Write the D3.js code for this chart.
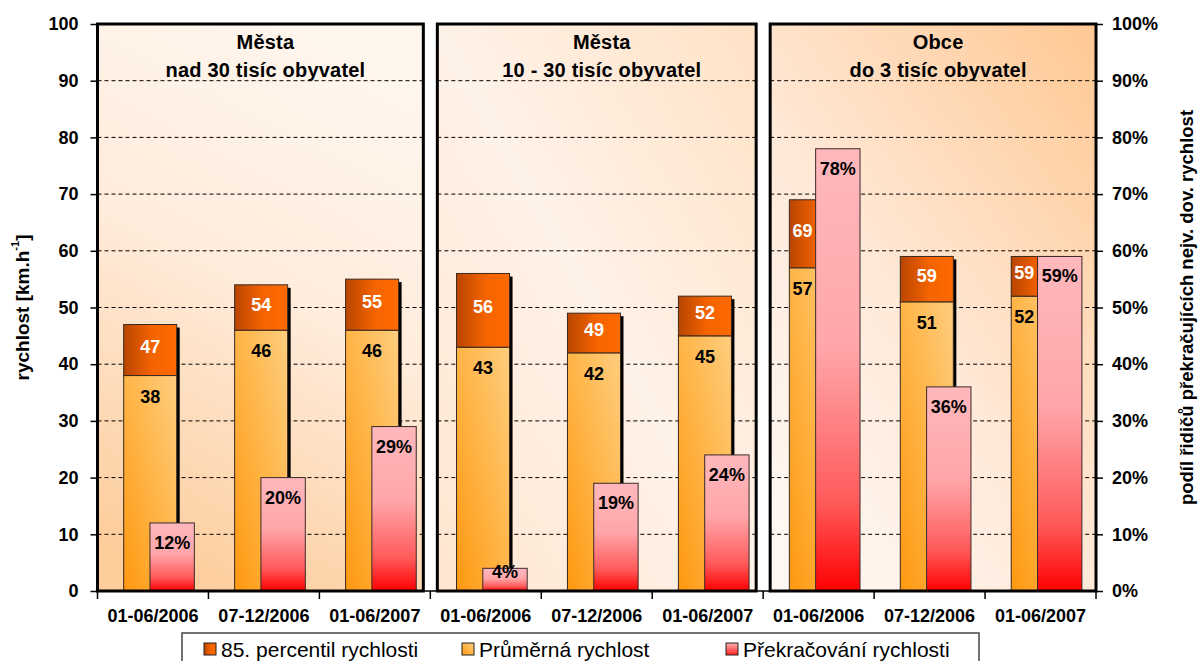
<!DOCTYPE html>
<html>
<head>
<meta charset="utf-8">
<script src="https://cdn.jsdelivr.net/npm/d3@7"></script>
<style>
  html, body { margin: 0; padding: 0; background: #fff; }
  svg { display: block; font-family: "Liberation Sans", Arial, sans-serif; }
</style>
</head>
<body>
<svg id="chart" width="1200" height="661"></svg>
<script>
// Periods shown under every group of bars
const periods = ["01-06/2006", "07-12/2006", "01-06/2007"];
// Group headings (two lines each)
const groupTitles = [
  ["Města", "nad 30 tisíc obyvatel"],
  ["Města", "10 - 30 tisíc obyvatel"],
  ["Obce", "do 3 tisíc obyvatel"]
];
// Average speed [km/h], per group and period
const meanSpeed = [38, 46, 46, 43, 42, 45, 57, 51, 52];
// 85th percentile speed [km/h]
const p85Speed = [47, 54, 55, 56, 49, 52, 69, 59, 59];
// Share of drivers over the speed limit [%]
const speedingShare = [12, 20, 29, 4, 19, 24, 78, 36, 59];
// Axis ticks
const speedTicks = [0, 10, 20, 30, 40, 50, 60, 70, 80, 90, 100];
const shareTicks = [0, 10, 20, 30, 40, 50, 60, 70, 80, 90, 100];
const legendLabels = ["85. percentil rychlosti", "Průměrná rychlost", "Překračování rychlosti"];

const rows = meanSpeed.map((m, i) => ({
  i, group: Math.floor(i / 3), period: periods[i % 3],
  mean: m, p85: p85Speed[i], share: speedingShare[i]
}));

const svg = d3.select("#chart");
const plotTop = 24, plotBottom = 591, plotLeft = 97.5, plotRight = 1096;

const x = d3.scaleBand().domain(d3.range(rows.length)).range([plotLeft, plotRight]).padding(0);
const bw = x.bandwidth();
const y = d3.scaleLinear().domain([0, 100]).range([plotBottom, plotTop]);
const yShare = d3.scaleLinear().domain([0, 100]).range([plotBottom, plotTop]);

// bar geometry inside each category band
const orangeOff = bw * 0.236, orangeW = bw * 0.478;
const pinkOff = bw * 0.473, pinkW = bw * 0.4;

// ---- gradients ----
const defs = svg.append("defs");
function lin(id, x1, y1, x2, y2, stops) {
  const g = defs.append("linearGradient").attr("id", id)
    .attr("x1", x1).attr("y1", y1).attr("x2", x2).attr("y2", y2);
  stops.forEach(([o, c]) => g.append("stop").attr("offset", o).attr("stop-color", c));
}
lin("gDark", 0, 0, 1, 0, [[0, "#b94500"], [0.55, "#f56400"], [1, "#ff6a00"]]);
lin("gMean", 0, 1, 1, 0, [[0, "#ff9810"], [0.5, "#ffb446"], [1, "#ffcd7e"]]);
lin("gPink", 0, 0, 0, 1, [[0, "#ffb8bc"], [0.45, "#ffa6aa"], [0.8, "#ff5a5a"], [1, "#ff0000"]]);
lin("gLegPink", 0, 0, 0, 1, [[0, "#ffb0b4"], [1, "#ff2020"]]);
// panel backgrounds
lin("gPanel0", 0.6, 0, 0.3, 1, [[0, "#fff6ee"], [0.45, "#ffecdc"], [1, "#fdcd9c"]]);
lin("gPanel1", 1, 0, 0, 1, [[0, "#ffe2c6"], [0.5, "#fff2e8"], [1, "#ffe6d0"]]);
lin("gPanel2", 1, 0, 0.2, 1, [[0, "#ffc893"], [0.6, "#ffe9d8"], [1, "#fff7f1"]]);

// ---- panels ----
const panels = d3.range(3).map(g => {
  const x0 = x(g * 3) + (g > 0 ? 7 : 0);
  const x1 = x(g * 3 + 2) + bw - (g < 2 ? 7 : 0);
  return { g, x0, x1 };
});

svg.append("g").selectAll("rect").data(panels).join("rect")
  .attr("x", d => d.x0).attr("y", plotTop)
  .attr("width", d => d.x1 - d.x0).attr("height", plotBottom - plotTop)
  .attr("fill", d => `url(#gPanel${d.g})`);

// dashed grid lines, one set per panel
const grid = svg.append("g");
panels.forEach(p => {
  grid.append("g").selectAll("line").data(speedTicks.filter(t => t > 0 && t < 100)).join("line")
    .attr("x1", p.x0).attr("x2", p.x1)
    .attr("y1", d => y(d)).attr("y2", d => y(d))
    .attr("stroke", "#000").attr("stroke-width", 1).attr("stroke-dasharray", "4,3");
});

// ---- bars ----
const bars = svg.append("g");
// drop shadow of the speed bars
bars.selectAll(".shadow").data(rows).join("rect")
  .attr("class", "shadow")
  .attr("x", d => x(d.i) + orangeOff + 3)
  .attr("y", d => y(d.p85) + 3)
  .attr("width", orangeW)
  .attr("height", d => plotBottom - y(d.p85) - 3)
  .attr("fill", "#000");
// average speed
bars.selectAll(".mean").data(rows).join("rect")
  .attr("class", "mean")
  .attr("x", d => x(d.i) + orangeOff)
  .attr("y", d => y(d.mean))
  .attr("width", orangeW)
  .attr("height", d => plotBottom - y(d.mean))
  .attr("fill", "url(#gMean)").attr("stroke", "#3a2a20").attr("stroke-width", 1);
// 85th percentile part stacked above
bars.selectAll(".p85").data(rows).join("rect")
  .attr("class", "p85")
  .attr("x", d => x(d.i) + orangeOff)
  .attr("y", d => y(d.p85))
  .attr("width", orangeW)
  .attr("height", d => y(d.mean) - y(d.p85))
  .attr("fill", "url(#gDark)").attr("stroke", "#3a2a20").attr("stroke-width", 1);
// share of speeding drivers (secondary axis)
bars.selectAll(".share").data(rows).join("rect")
  .attr("class", "share")
  .attr("x", d => x(d.i) + pinkOff)
  .attr("y", d => yShare(d.share))
  .attr("width", pinkW)
  .attr("height", d => plotBottom - yShare(d.share))
  .attr("fill", "url(#gPink)").attr("stroke", "#3a2a2a").attr("stroke-width", 1);

// ---- value labels ----
// speed labels sit in the middle of the visible part of the speed bar
function speedLabelX(d, ly) {
  const x0 = x(d.i) + orangeOff;
  const hidden = yShare(d.share) < ly + 10;
  return hidden ? (x0 + x(d.i) + pinkOff) / 2 : x0 + orangeW / 2;
}
const labels = svg.append("g").attr("font-weight", "bold").attr("font-size", 18)
  .attr("text-anchor", "middle").attr("dominant-baseline", "central");
labels.selectAll(".lp85").data(rows).join("text")
  .attr("class", "lp85")
  .each(function (d) {
    const ly = (y(d.p85) + y(d.mean)) / 2 - 3;
    d3.select(this).attr("x", speedLabelX(d, ly)).attr("y", ly);
  })
  .attr("fill", "#fff").text(d => d.p85);
labels.selectAll(".lmean").data(rows).join("text")
  .attr("class", "lmean")
  .each(function (d) {
    const ly = y(d.mean) + 21;
    d3.select(this).attr("x", speedLabelX(d, ly)).attr("y", ly);
  })
  .attr("fill", "#000").text(d => d.mean);
labels.selectAll(".lshare").data(rows).join("text")
  .attr("class", "lshare")
  .attr("x", d => x(d.i) + pinkOff + pinkW / 2)
  .attr("y", d => {
    const t = yShare(d.share);
    return plotBottom - t < 40 ? t + 4 : t + 20;
  })
  .attr("fill", "#000").text(d => d.share + "%");

// ---- panel frames and titles ----
svg.append("g").selectAll("rect").data(panels).join("rect")
  .attr("x", d => d.x0).attr("y", plotTop)
  .attr("width", d => d.x1 - d.x0).attr("height", plotBottom - plotTop)
  .attr("fill", "none").attr("stroke", "#000").attr("stroke-width", 3);

const titles = svg.append("g").attr("font-weight", "bold").attr("font-size", 20)
  .attr("letter-spacing", 0.2).attr("text-anchor", "middle");
panels.forEach(p => {
  const cx = (p.x0 + p.x1) / 2 + 5;
  groupTitles[p.g].forEach((line, k) => {
    titles.append("text").attr("x", cx).attr("y", 49 + k * 28).text(line);
  });
});

// ---- axes ----
const axisFont = g => g.selectAll("text").attr("font-family", "Liberation Sans, Arial, sans-serif")
  .attr("font-size", 18).attr("font-weight", "bold").attr("fill", "#000");

const yAxis = svg.append("g").attr("transform", `translate(${plotLeft},0)`)
  .call(d3.axisLeft(y).tickValues(speedTicks).tickSize(7).tickPadding(12));
yAxis.select(".domain").remove();
yAxis.selectAll("line").attr("stroke", "#000").attr("stroke-width", 1.5);
axisFont(yAxis);

const y2Axis = svg.append("g").attr("transform", `translate(${plotRight},0)`)
  .call(d3.axisRight(yShare).tickValues(shareTicks).tickFormat(d => d + "%").tickSize(7).tickPadding(9));
y2Axis.select(".domain").remove();
y2Axis.selectAll("line").attr("stroke", "#000").attr("stroke-width", 1.5);
axisFont(y2Axis);

const xAxis = svg.append("g").attr("transform", `translate(0,${plotBottom})`)
  .call(d3.axisBottom(x).tickFormat(i => periods[i % 3]).tickSize(0).tickPadding(18));
xAxis.select(".domain").attr("d", `M${plotLeft},0H${plotRight}`).attr("stroke", "#000").attr("stroke-width", 1.5);
axisFont(xAxis);
// category separators below the axis
xAxis.selectAll(".sep").data(d3.range(rows.length + 1)).join("line")
  .attr("class", "sep")
  .attr("x1", i => plotLeft + i * bw).attr("x2", i => plotLeft + i * bw)
  .attr("y1", 0).attr("y2", 8).attr("stroke", "#000").attr("stroke-width", 1.5);

// axis titles
const lt = svg.append("text")
  .attr("transform", `translate(22,${(plotTop + plotBottom) / 2}) rotate(-90)`)
  .attr("text-anchor", "middle").attr("dominant-baseline", "central")
  .attr("font-size", 19).attr("font-weight", "bold");
lt.append("tspan").text("rychlost [km.h");
lt.append("tspan").attr("font-size", 11).attr("dy", -7).text("-1");
lt.append("tspan").attr("dy", 7).text("]");

svg.append("text")
  .attr("transform", `translate(1186,${(plotTop + plotBottom) / 2}) rotate(-90)`)
  .attr("text-anchor", "middle").attr("dominant-baseline", "central")
  .attr("font-size", 18.5).attr("font-weight", "bold")
  .text("podíl řidičů překračujících nejv. dov. rychlost");

// ---- legend ----
const legend = svg.append("g");
legend.append("rect").attr("x", 182).attr("y", 633).attr("width", 797).attr("height", 40)
  .attr("fill", "#fff").attr("stroke", "#444").attr("stroke-width", 1.5);
const legFills = ["url(#gDark)", "url(#gMean)", "url(#gLegPink)"];
const legX = [204, 462, 726];
legendLabels.forEach((t, k) => {
  legend.append("rect").attr("x", legX[k]).attr("y", 643).attr("width", 12).attr("height", 12)
    .attr("fill", legFills[k]).attr("stroke", "#222").attr("stroke-width", 1);
  legend.append("text").attr("x", legX[k] + 17).attr("y", 649)
    .attr("dominant-baseline", "central").attr("font-size", 21).text(t);
});
</script>
</body>
</html>
